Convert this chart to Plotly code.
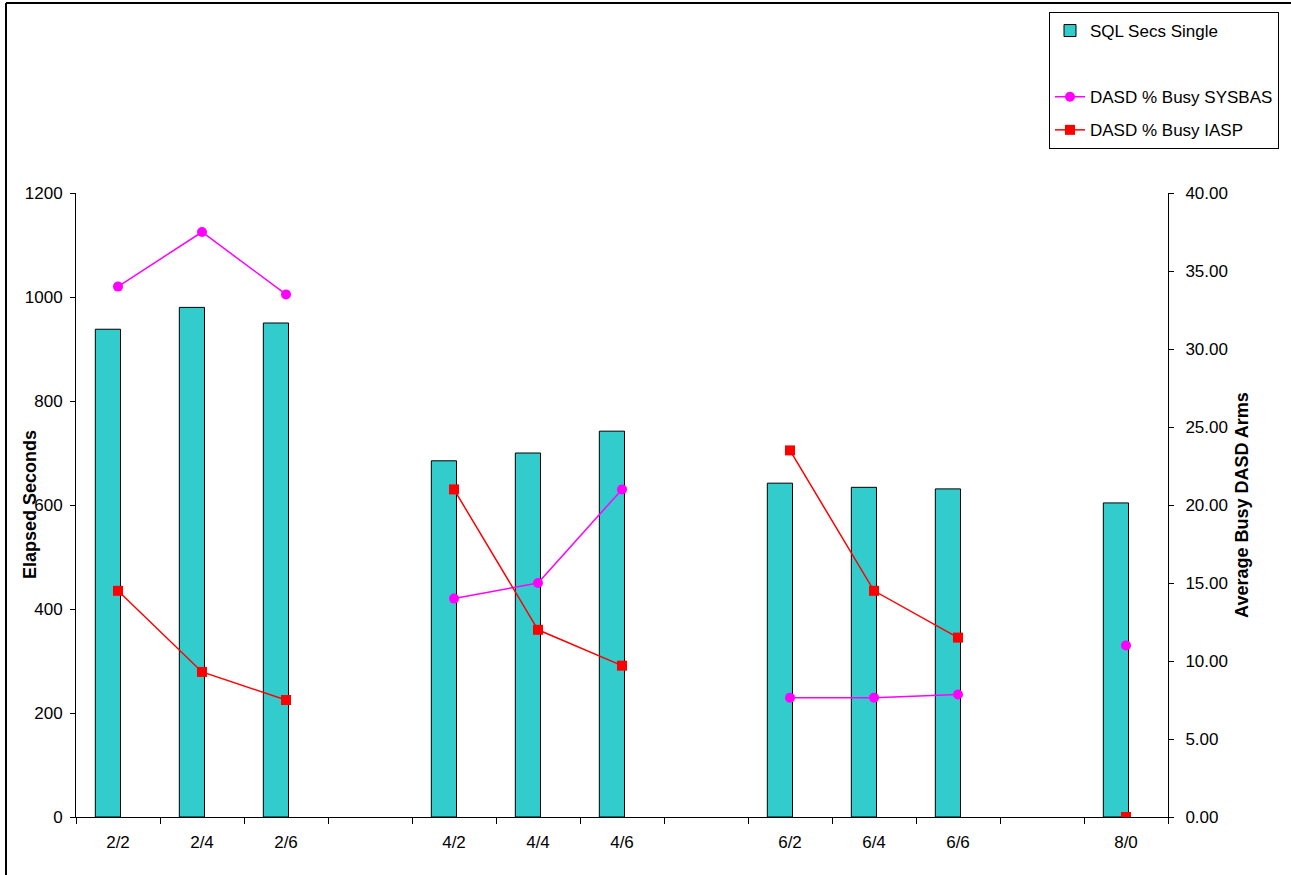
import plotly.graph_objects as go

# Test runs: blank slots separate the groups on the category axis
categories = ["2/2", "2/4", "2/6", "", "4/2", "4/4", "4/6", "", "6/2", "6/4", "6/6", "", "8/0"]
sql_secs_single = [938, 980, 950, None, 685, 700, 742, None, 642, 634, 631, None, 604]
busy_sysbas = [34.0, 37.5, 33.5, None, 14.0, 15.0, 21.0, None, 7.65, 7.65, 7.85, None, 11.0]
busy_iasp = [14.5, 9.3, 7.5, None, 21.0, 12.0, 9.7, None, 23.5, 14.5, 11.5, None, 0.0]

x_pos = list(range(len(categories)))
boundaries = [i - 0.5 for i in range(len(categories) + 1)]

FONT = "Liberation Sans, Arial, sans-serif"
W, H = 1291, 875
L, R, T, B = 76, 123, 193, 58
PW, PH = W - L - R, H - T - B

fig = go.Figure()

fig.add_trace(go.Bar(
    x=x_pos, y=sql_secs_single, name="SQL Secs Single",
    offset=-0.27, width=0.3,
    marker=dict(color="#33CCCC", line=dict(color="black", width=1)),
    legendgroup="a",
))
# empty second bar series (keeps the blank legend row)
fig.add_trace(go.Bar(
    x=x_pos, y=[None] * len(x_pos), name=" ",
    marker=dict(color="rgba(0,0,0,0)", line=dict(width=0)),
    legendgroup="b",
))
fig.add_trace(go.Scatter(
    x=x_pos, y=busy_sysbas, name="DASD % Busy SYSBAS", yaxis="y2",
    mode="lines+markers", connectgaps=False,
    line=dict(color="#FF00FF", width=1.5),
    marker=dict(symbol="circle", size=10, color="#FF00FF"),
    legendgroup="c",
))
fig.add_trace(go.Scatter(
    x=x_pos, y=busy_iasp, name="DASD % Busy IASP", yaxis="y2",
    mode="lines+markers", connectgaps=False,
    line=dict(color="#FF0000", width=1.5),
    marker=dict(symbol="square", size=10, color="#FF0000"),
    legendgroup="d",
))

def px_x(p):
    return (p - L) / PW

def px_y(p):
    return (H - B - p) / PH

fig.update_layout(
    width=W, height=H,
    margin=dict(l=L, r=R, t=T, b=B, autoexpand=False),
    paper_bgcolor="white", plot_bgcolor="white",
    font=dict(family=FONT, size=17, color="black"),
    showlegend=True,
    legend=dict(
        x=px_x(1049), y=px_y(12), xanchor="left", yanchor="top",
        bordercolor="black", borderwidth=1, bgcolor="white",
        font=dict(size=17), tracegroupgap=8, traceorder="grouped",
    ),
    xaxis=dict(
        range=[-0.5, len(categories) - 0.5],
        tickmode="array", tickvals=x_pos, ticktext=categories,
        ticks="", showgrid=False, zeroline=False,
        showline=True, linecolor="black", linewidth=1,
        ticklabelstandoff=10,
        minor=dict(tickmode="array", tickvals=boundaries, ticks="outside",
                   ticklen=6, tickcolor="black", tickwidth=1, showgrid=False),
    ),
    yaxis=dict(
        range=[0, 1200], tickmode="linear", tick0=0, dtick=200,
        ticks="outside", ticklen=5, tickcolor="black",
        showgrid=False, zeroline=False,
        showline=True, linecolor="black", linewidth=1,
        ticklabelstandoff=4,
    ),
    yaxis2=dict(
        range=[0, 40], tickmode="linear", tick0=0, dtick=5, tickformat=".2f",
        overlaying="y", side="right", anchor="x",
        ticks="outside", ticklen=5, tickcolor="black",
        showgrid=False, zeroline=False,
        showline=True, linecolor="black", linewidth=1,
        ticklabelstandoff=8,
        title=dict(text="Average Busy DASD Arms", font=dict(size=18, weight="bold"), standoff=8),
    ),
    annotations=[
        dict(text="Elapsed Seconds", xref="paper", yref="paper",
             x=px_x(30), y=px_y(505), xanchor="center", yanchor="middle",
             textangle=-90, showarrow=False,
             font=dict(size=18, weight="bold")),
    ],
    shapes=[
        dict(type="line", xref="paper", yref="paper",
             x0=px_x(6), x1=px_x(W + 5), y0=px_y(3), y1=px_y(3),
             line=dict(color="black", width=2)),
        dict(type="line", xref="paper", yref="paper",
             x0=px_x(6), x1=px_x(6), y0=px_y(3), y1=px_y(H + 5),
             line=dict(color="black", width=2)),
    ],
)

fig.write_html("out.html")
